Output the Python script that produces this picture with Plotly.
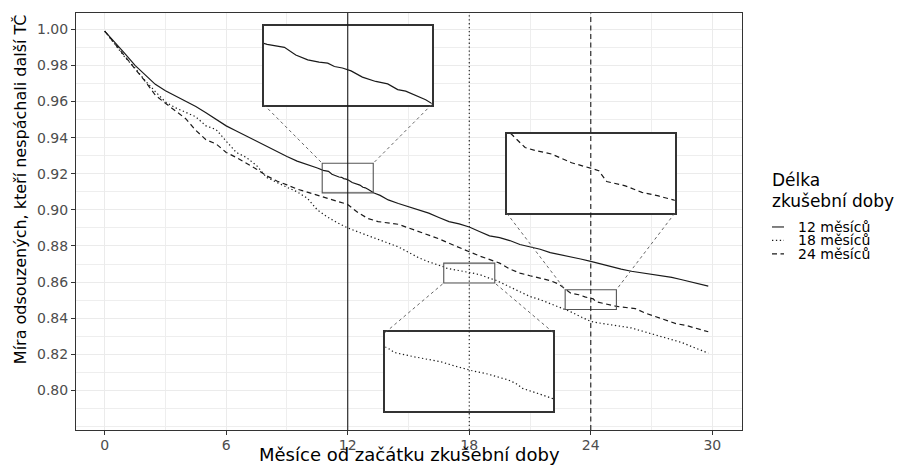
import plotly.graph_objects as go

# ---------------- data ----------------
series_names = ["12 měsíců", "18 měsíců", "24 měsíců"]

months_12 = [0, 0.25, 0.5, 0.75, 1.0, 1.5, 2.0, 2.5, 3.0, 3.5, 4.0, 4.5, 5.0, 5.5, 6.0, 6.5, 7.0, 7.5,
             8.0, 8.5, 9.0, 9.5, 10.0, 10.5, 10.79, 11.05, 11.22, 11.40, 11.57, 11.70, 11.80, 11.92,
             12.05, 12.22, 12.42, 12.60, 12.75, 12.87, 13.02, 13.17, 13.30, 13.6, 14.0, 14.5, 15.0,
             15.5, 16.0, 16.5, 17.0, 17.5, 18.0, 18.5, 19.0, 19.5, 20.0, 20.5, 21.0, 21.5, 22.0,
             22.5, 23.0, 23.5, 24.0, 24.5, 25.0, 25.5, 26.0, 26.5, 27.0, 27.5, 28.0, 28.5, 29.0,
             29.5, 29.8]
surv_12 = [0.9990, 0.9960, 0.9925, 0.9895, 0.9865, 0.9800, 0.9745, 0.9695, 0.9660, 0.9632, 0.9603,
           0.9572, 0.9538, 0.9502, 0.9465, 0.9437, 0.9408, 0.9381, 0.9353, 0.9325, 0.9295, 0.9270,
           0.9252, 0.9232, 0.9219, 0.9213, 0.9197, 0.9187, 0.9182, 0.9180, 0.9173, 0.9170, 0.9164,
           0.9151, 0.9142, 0.9137, 0.9125, 0.9122, 0.9113, 0.9104, 0.9093, 0.9080, 0.9055, 0.9035,
           0.9017, 0.8998, 0.8982, 0.8958, 0.8935, 0.8922, 0.8905, 0.8880, 0.8856, 0.8846, 0.8830,
           0.8808, 0.8795, 0.8782, 0.8763, 0.8752, 0.8742, 0.8728, 0.8715, 0.8700, 0.8688, 0.8672,
           0.8660, 0.8652, 0.8646, 0.8636, 0.8626, 0.8613, 0.8600, 0.8588, 0.8578]

months_18 = [0, 0.25, 0.5, 0.75, 1.0, 1.5, 2.0, 2.5, 3.0, 3.5, 4.0, 4.5, 5.0, 5.5, 6.0, 6.5, 7.0, 7.5,
             8.0, 8.5, 9.0, 9.5, 10.0, 10.5, 11.0, 11.5, 12.0, 12.5, 13.0, 13.5, 14.0, 14.5, 15.0,
             15.5, 16.0, 16.5, 16.78, 16.88, 17.18, 17.58, 17.83, 18.03, 18.28, 18.58, 18.70, 18.80,
             19.03, 19.28, 19.6, 20.0, 20.5, 21.0, 21.5, 22.0, 22.5, 23.0, 23.5, 24.0, 24.5, 25.0,
             25.5, 26.0, 26.5, 27.0, 27.5, 28.0, 28.5, 29.0, 29.5, 29.8]
surv_18 = [0.9990, 0.9955, 0.9915, 0.9880, 0.9845, 0.9785, 0.9715, 0.9655, 0.9597, 0.9565, 0.9538,
           0.9515, 0.9465, 0.9445, 0.9380, 0.9318, 0.9290, 0.9245, 0.9179, 0.9150, 0.9125, 0.9100,
           0.9065, 0.9000, 0.8960, 0.8928, 0.8900, 0.8878, 0.8858, 0.8838, 0.8818, 0.8795, 0.8765,
           0.8735, 0.8712, 0.8695, 0.8683, 0.8677, 0.8671, 0.8664, 0.8657, 0.8652, 0.8647, 0.8639,
           0.8634, 0.8627, 0.8620, 0.8612, 0.8595, 0.8572, 0.8545, 0.8520, 0.8503, 0.8482, 0.8460,
           0.8436, 0.8408, 0.8382, 0.8372, 0.8365, 0.8355, 0.8346, 0.8330, 0.8310, 0.8297, 0.8282,
           0.8265, 0.8242, 0.8222, 0.8207]

months_24 = [0, 0.25, 0.5, 0.75, 1.0, 1.5, 2.0, 2.5, 3.0, 3.5, 4.0, 4.5, 5.0, 5.5, 6.0, 6.5, 7.0, 7.5,
             8.0, 8.5, 9.0, 9.5, 10.0, 10.5, 11.0, 11.5, 12.0, 12.5, 13.0, 13.5, 14.0, 14.5, 15.0,
             15.5, 16.0, 16.5, 17.0, 17.5, 18.0, 18.5, 19.0, 19.5, 20.0, 20.5, 21.0, 21.5, 22.0,
             22.4, 22.81, 23.01, 23.16, 23.41, 23.71, 24.01, 24.12, 24.24, 24.52, 24.77, 25.02,
             25.30, 25.7, 26.2, 26.7, 27.2, 27.7, 28.2, 28.7, 29.2, 29.8]
surv_24 = [0.9990, 0.9955, 0.9915, 0.9880, 0.9845, 0.9780, 0.9712, 0.9635, 0.9590, 0.9545, 0.9505,
           0.9440, 0.9388, 0.9365, 0.9318, 0.9290, 0.9258, 0.9225, 0.9188, 0.9160, 0.9138, 0.9115,
           0.9098, 0.9080, 0.9063, 0.9045, 0.9030, 0.8985, 0.8952, 0.8935, 0.8928, 0.8920, 0.8900,
           0.8880, 0.8860, 0.8840, 0.8815, 0.8790, 0.8768, 0.8745, 0.8725, 0.8705, 0.8672, 0.8650,
           0.8635, 0.8622, 0.8608, 0.8590, 0.8557, 0.8539, 0.8535, 0.8530, 0.8518, 0.8510, 0.8507,
           0.8492, 0.8486, 0.8477, 0.8472, 0.8465, 0.8460, 0.8453, 0.8428, 0.8408, 0.8388, 0.8370,
           0.8360, 0.8345, 0.8325]

vline_months = [12, 18, 24]
x_tick_vals = [0, 6, 12, 18, 24, 30]
y_tick_vals = [0.80, 0.82, 0.84, 0.86, 0.88, 0.90, 0.92, 0.94, 0.96, 0.98, 1.00]

x_title = "Měsíce od začátku zkušební doby"
y_title = "Míra odsouzených, kteří nespáchali další TČ"
legend_title = ["Délka", "zkušební doby"]

# ---------------- layout constants ----------------
W, H = 905, 465
ML, MR, MT, MB = 76, 163, 13, 33
PW, PH = W - ML - MR, H - MT - MB
XR = [-1.416, 31.466]
YR = [0.7781, 1.0090]

# magnifier windows: source area (x0, x1, y0, y1) and inset placement, data coords
zoom_from = [(10.74, 13.26, 0.9094, 0.9258),
             (16.74, 19.26, 0.8595, 0.8705),
             (22.735, 25.265, 0.8448, 0.8558)]
zoom_to = [(7.855, 16.145, 0.9583, 1.0020),
           (13.855, 22.145, 0.7884, 0.8321),
           (19.855, 28.145, 0.8981, 0.9421)]

FONT = "DejaVu Sans"
INK = "#1a1a1a"
dashes = ["solid", "1.3px,2.6px", "5px,3.5px"]
series = [(months_12, surv_12), (months_18, surv_18), (months_24, surv_24)]


def fx(v):
    return (v - XR[0]) / (XR[1] - XR[0])


def fy(v):
    return (v - YR[0]) / (YR[1] - YR[0])


def px_x(p):
    return (p - ML) / PW


def px_y(p):
    return (H - MB - p) / PH


fig = go.Figure()

# main curves
for (mx, sy), name, d in zip(series, series_names, dashes):
    fig.add_trace(go.Scatter(x=mx, y=sy, mode="lines", name=name, showlegend=False,
                             line=dict(color=INK, width=1.2, dash=d),
                             xaxis="x", yaxis="y", hoverinfo="skip"))

# insets
shapes = []
for k, ((mx, sy), d, src, dst) in enumerate(zip(series, dashes, zoom_from, zoom_to)):
    i = k + 2
    fig.add_trace(go.Scatter(x=mx, y=sy, mode="lines", showlegend=False,
                             line=dict(color=INK, width=1.2, dash=d),
                             xaxis=f"x{i}", yaxis=f"y{i}", hoverinfo="skip"))
    ax = dict(range=[src[0], src[1]], domain=[fx(dst[0]), fx(dst[1])], anchor=f"y{i}",
              showticklabels=False, ticks="", showgrid=False, zeroline=False,
              showline=True, mirror=True, linecolor="#333333", linewidth=1.6)
    ay = dict(range=[src[2], src[3]], domain=[fy(dst[2]), fy(dst[3])], anchor=f"x{i}",
              showticklabels=False, ticks="", showgrid=False, zeroline=False,
              showline=True, mirror=True, linecolor="#333333", linewidth=1.6)
    fig.update_layout({f"xaxis{i}": ax, f"yaxis{i}": ay})
    # white backdrop of inset
    shapes.append(dict(type="rect", xref=f"x{i}", yref=f"y{i}", x0=src[0], x1=src[1],
                       y0=src[2], y1=src[3], fillcolor="white", line=dict(width=0), layer="below"))
    # source rectangle
    shapes.append(dict(type="rect", xref="x", yref="y", x0=src[0], x1=src[1], y0=src[2], y1=src[3],
                       line=dict(color="#555555", width=1.1), layer="above"))
    # connectors
    if dst[2] > src[3]:
        pairs = [((dst[0], dst[2]), (src[0], src[3])), ((dst[1], dst[2]), (src[1], src[3]))]
    else:
        pairs = [((dst[0], dst[3]), (src[0], src[2])), ((dst[1], dst[3]), (src[1], src[2]))]
    for (a, b) in pairs:
        shapes.append(dict(type="line", xref="x", yref="y", x0=a[0], y0=a[1], x1=b[0], y1=b[1],
                           line=dict(color="#555555", width=0.9, dash="3px,3px"), layer="above"))

# vertical reference lines
for m, d in zip(vline_months, ["solid", "1.3px,2.6px", "5px,3.5px"]):
    shapes.append(dict(type="line", xref="x", yref="y domain", x0=m, x1=m, y0=0, y1=1,
                       line=dict(color=INK, width=1.1, dash=d), layer="above"))

# manual legend
annotations = []
annotations.append(dict(text=legend_title[0], x=px_x(770.5), y=px_y(180.5), xref="paper", yref="paper",
                        xanchor="left", yanchor="middle", showarrow=False,
                        font=dict(family=FONT, size=17, color="black")))
annotations.append(dict(text=legend_title[1], x=px_x(770.5), y=px_y(201.5), xref="paper", yref="paper",
                        xanchor="left", yanchor="middle", showarrow=False,
                        font=dict(family=FONT, size=17, color="black")))
leg_y = [228, 241.5, 255]
for name, d, ly in zip(series_names, dashes, leg_y):
    shapes.append(dict(type="line", xref="paper", yref="paper", x0=px_x(772), x1=px_x(784),
                       y0=px_y(ly), y1=px_y(ly), line=dict(color=INK, width=1.1, dash=d)))
    annotations.append(dict(text=name, x=px_x(795.5), y=px_y(ly), xref="paper", yref="paper",
                            xanchor="left", yanchor="middle", showarrow=False,
                            font=dict(family=FONT, size=14, color="black")))

# axis titles
annotations.append(dict(text=x_title, x=px_x(409), y=px_y(456.5), xref="paper", yref="paper",
                        xanchor="center", yanchor="middle", showarrow=False,
                        font=dict(family=FONT, size=18, color="black")))
annotations.append(dict(text=y_title, x=px_x(20), y=px_y(190), xref="paper", yref="paper",
                        xanchor="center", yanchor="middle", showarrow=False, textangle=-90,
                        font=dict(family=FONT, size=16, color="black")))

fig.update_layout(
    width=W, height=H,
    margin=dict(l=ML, r=MR, t=MT, b=MB, pad=0),
    paper_bgcolor="white", plot_bgcolor="white",
    font=dict(family=FONT, color="#4D4D4D"),
    showlegend=False,
    xaxis=dict(range=XR, domain=[0, 1], anchor="y", tickvals=x_tick_vals,
               ticktext=[str(v) for v in x_tick_vals],
               showgrid=True, gridcolor="#EBEBEB", gridwidth=1.3, zeroline=False,
               minor=dict(dtick=3, tick0=0, showgrid=True, gridcolor="#EEEEEE", gridwidth=0.7, ticks=""),
               showline=True, mirror=True, linecolor="#333333", linewidth=1,
               ticks="outside", ticklen=4, tickwidth=1, tickcolor="#333333",
               ticklabelstandoff=-2,
               tickfont=dict(family=FONT, size=14, color="#4D4D4D")),
    yaxis=dict(range=YR, domain=[0, 1], anchor="x", tickvals=y_tick_vals,
               ticktext=[f"{v:.2f}" for v in y_tick_vals],
               showgrid=True, gridcolor="#EBEBEB", gridwidth=1.3, zeroline=False,
               minor=dict(dtick=0.01, tick0=0, showgrid=True, gridcolor="#EEEEEE", gridwidth=0.7, ticks=""),
               showline=True, mirror=True, linecolor="#333333", linewidth=1,
               ticks="outside", ticklen=4, tickwidth=1, tickcolor="#333333",
               tickfont=dict(family=FONT, size=14, color="#4D4D4D")),
    shapes=shapes,
    annotations=annotations,
)

fig.write_html("out.html", config={"displayModeBar": False},
               post_script="document.body.style.margin='0';document.body.style.overflow='hidden';")
